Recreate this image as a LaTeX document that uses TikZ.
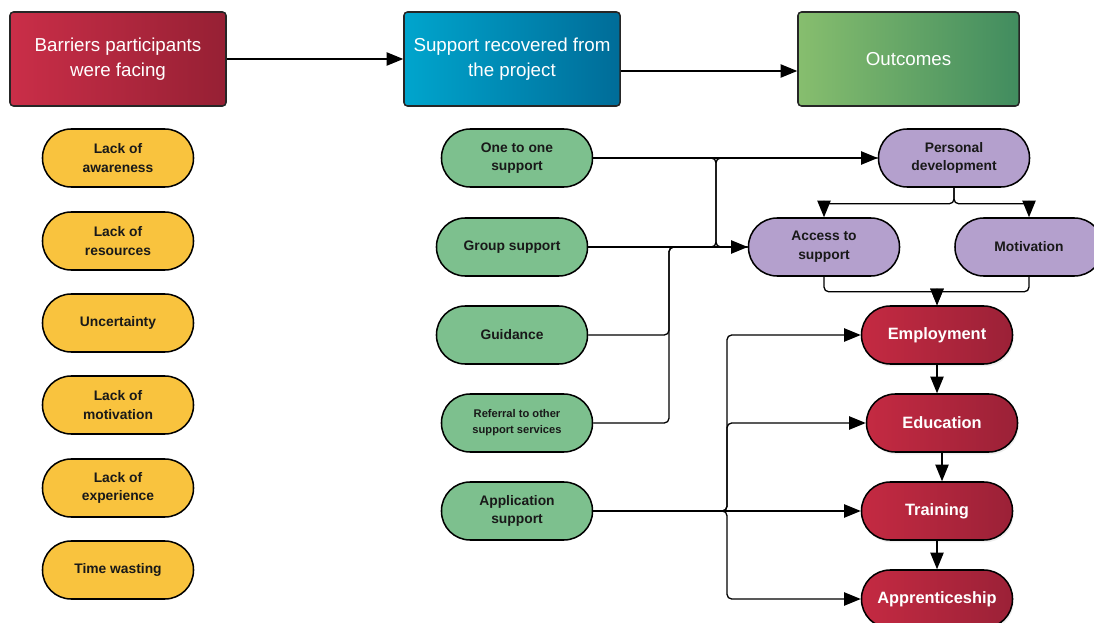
\documentclass[tikz,border=0pt]{standalone}
\usepackage{fontspec}
\setmainfont{Liberation Sans}
\usetikzlibrary{arrows.meta,shadows}
\definecolor{barL}{RGB}{202,46,72}
\definecolor{barR}{RGB}{150,32,52}
\definecolor{supL}{RGB}{0,165,205}
\definecolor{supR}{RGB}{0,108,152}
\definecolor{outL}{RGB}{135,190,110}
\definecolor{outR}{RGB}{65,140,95}
\definecolor{redL}{RGB}{196,42,66}
\definecolor{redR}{RGB}{155,33,55}
\definecolor{pillYellow}{RGB}{249,195,62}
\definecolor{pillGreen}{RGB}{125,192,142}
\definecolor{pillPurple}{RGB}{180,160,205}
\begin{document}
\begin{tikzpicture}[x=0.03cm,y=-0.03cm,
  header/.style={draw=black!85, line width=1.3pt, rounded corners=3pt,
    minimum width=6.48cm, minimum height=2.82cm, text=white,
    font=\fontsize{16}{21.5}\selectfont, align=center},
  pill/.style={draw=black, line width=1.3pt, rounded corners=0.86cm,
    minimum width=4.53cm, minimum height=1.74cm, align=center,
    font=\bfseries\fontsize{11.8}{16}\selectfont, text=black!90},
  barrier/.style={pill, fill=pillYellow},
  support/.style={pill, fill=pillGreen},
  midout/.style={pill, fill=pillPurple},
  finalout/.style={pill, left color=redL, right color=redR, text=white,
    font=\bfseries\fontsize{14}{17}\selectfont,
    drop shadow={opacity=0.12, shadow xshift=1pt, shadow yshift=-2pt}},
  link/.style={line width=1.1pt, rounded corners=4pt},
  conn/.style={link, -{Triangle[length=0.5cm,width=0.4cm]}},
]
\fill[white] (0,0) rectangle (1094,623);
\useasboundingbox (0,0) rectangle (1094,623);

% column headers
\node[header, left color=barL, right color=barR] (bar) at (118,59) {Barriers participants\\were facing};
\node[header, left color=supL, right color=supR] (sup) at (512,59) {Support recovered from\\the project};
\node[header, minimum width=6.63cm, left color=outL, right color=outR] (out) at (908.5,59) {Outcomes};
\coordinate (lowrow) at (620,71);
\draw[conn] (bar.east) -- (sup.west);
\draw[conn] (sup.east |- lowrow) -- (out.west |- lowrow);

% barriers
\node[barrier] (b1) at (118,158) {Lack of\\awareness};
\node[barrier] (b2) at (118,241) {Lack of\\resources};
\node[barrier] (b3) at (118,323) {Uncertainty};
\node[barrier] (b4) at (118,405) {Lack of\\motivation};
\node[barrier] (b5) at (118,488) {Lack of\\experience};
\node[barrier] (b6) at (118,570) {Time wasting};

% support
\node[support] (one) at (517,158) {One to one\\support};
\node[support] (group) at (512,247) {Group support};
\node[support] (guid) at (512,335) {Guidance};
\node[support, font=\bfseries\fontsize{9.5}{13.5}\selectfont] (ref) at (517,423) {Referral to other\\support services};
\node[support] (app) at (517,511) {Application\\support};

% intermediate outcomes
\node[midout] (pers) at (954,158) {Personal\\development};
\node[midout] (acc) at (824,247) {Access to\\support};
\node[midout, minimum width=4.44cm] (mot) at (1029,247) {Motivation};

% final outcomes
\node[finalout] (emp) at (937,335) {Employment};
\node[finalout] (edu) at (942,423) {Education};
\node[finalout] (train) at (937,511) {Training};
\node[finalout] (appr) at (937,599) {Apprenticeship};

% support -> intermediate outcomes
\draw[conn] (one.east) -- (pers.west);
\draw[conn] (group.east) -- (acc.west);
\draw[link] (group.east) -- (716,247) |- (pers.west);
\draw[link] (one.east) -- (716,158) |- (acc.west);
\draw[link] (guid.east) -| (669,247) -- (acc.west);
\draw[link] (ref.east) -| (669,247) -- (acc.west);

% intermediate outcome links
\draw[conn] (pers.south) -- ++(0,16) -| (acc.north);
\draw[conn] (pers.south) -- ++(0,16) -| (mot.north);
\draw[conn] (acc.south) -- ++(0,15) -| (emp.north);
\draw[conn] (mot.south) -- ++(0,15) -| (emp.north);

% application support -> final outcomes
\draw[conn] (app.east) -- (727,511) |- (emp.west);
\draw[conn] (app.east) -- (727,511) |- (edu.west);
\draw[conn] (app.east) -- (train.west);
\draw[conn] (app.east) -- (727,511) |- (appr.west);

% final outcome chain
\draw[conn] (emp.south) -- (emp.south |- edu.north);
\draw[conn] (edu.south) -- (edu.south |- train.north);
\draw[conn] (train.south) -- (train.south |- appr.north);
\end{tikzpicture}
\end{document}
